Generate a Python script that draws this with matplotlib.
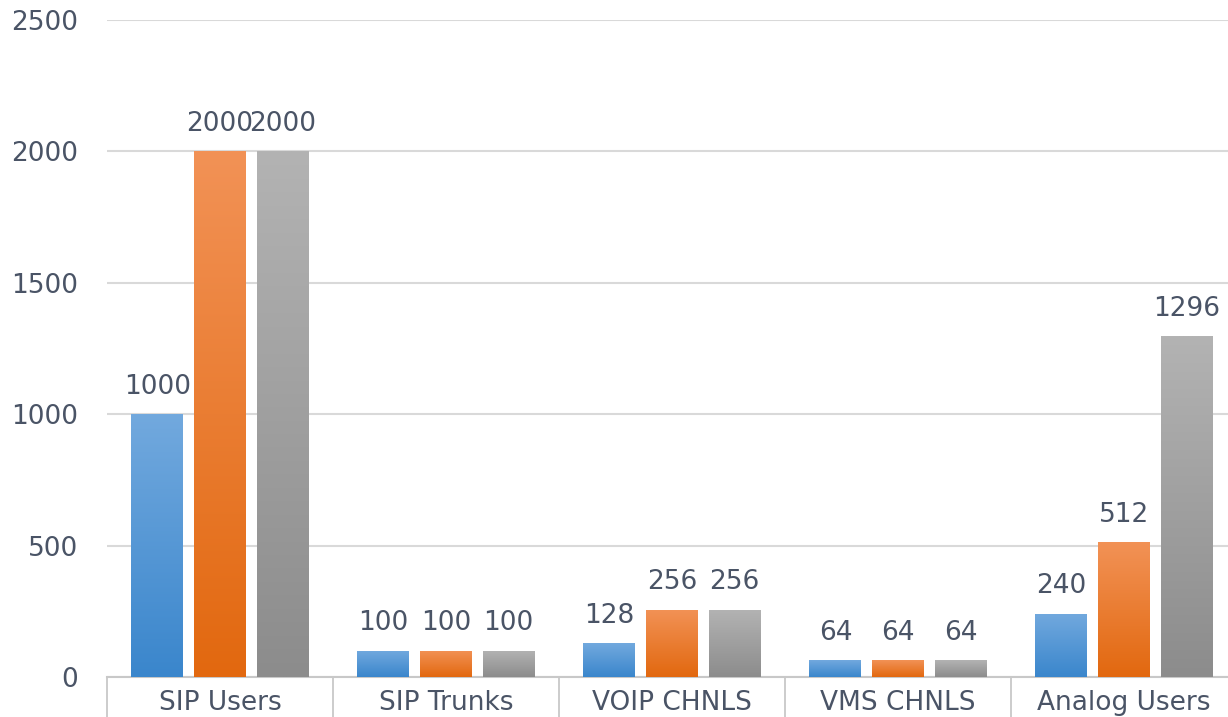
import numpy as np
import matplotlib
matplotlib.use("Agg")
import matplotlib.pyplot as plt
from matplotlib.colors import LinearSegmentedColormap

categories = ["SIP Users", "SIP Trunks", "VOIP CHNLS", "VMS CHNLS", "Analog Users"]
series_a = [1000, 100, 128, 64, 240]
series_b = [2000, 100, 256, 64, 512]
series_c = [2000, 100, 256, 64, 1296]
y_ticks = [0, 500, 1000, 1500, 2000, 2500]

gradients = [("#72A9DE", "#3A86CC"), ("#F29256", "#E2680F"), ("#B3B3B3", "#8C8C8C")]
text_color = "#4A5466"

fig = plt.figure(figsize=(12.28, 7.17), dpi=100)
ax = fig.add_axes([107/1228, 40/717, (1237-107)/1228, (677-20)/717])

x = np.arange(len(categories))
offsets = [-0.277, 0.0, 0.277]
width = 0.23

for series, off, (ctop, cbot) in zip([series_a, series_b, series_c], offsets, gradients):
    bars = ax.bar(x + off, series, width=width, color=cbot, edgecolor="none", zorder=3)
    cmap = LinearSegmentedColormap.from_list("g", [cbot, ctop])
    grad = np.linspace(0, 1, 256).reshape(-1, 1)
    for b, v in zip(bars, series):
        x0 = b.get_x()
        im = ax.imshow(grad, cmap=cmap, aspect="auto", origin="lower",
                       extent=[x0, x0 + b.get_width(), 0, v], zorder=3.5)
        im.set_clip_path(b)
        ax.text(b.get_x() + b.get_width() / 2, v + 55, str(v), ha="center", va="bottom",
                fontsize=19, color=text_color, zorder=5)

ax.set_xlim(-0.5, len(categories) - 0.5)
ax.set_ylim(0, 2500)
ax.set_yticks(y_ticks)
ax.set_yticklabels([str(t) for t in y_ticks])
ax.tick_params(axis="y", length=0, pad=21, labelsize=19, labelcolor=text_color)
ax.yaxis.grid(True, color="#D9D9D9", linewidth=1.5, zorder=0)
ax.set_axisbelow(True)

ax.set_xticks(x)
ax.set_xticklabels(categories)
ax.tick_params(axis="x", which="major", length=0, pad=9, labelsize=19, labelcolor=text_color)
ax.set_xticks(np.arange(-0.5, len(categories) + 0.5, 1), minor=True)
ax.tick_params(axis="x", which="minor", length=32, width=1.3, color="#C8C8C8", direction="out")

for s in ["top", "right", "left"]:
    ax.spines[s].set_visible(False)
ax.spines["bottom"].set_color("#C8C8C8")
ax.spines["bottom"].set_linewidth(1.5)

fig.savefig("out.png", dpi=100)
